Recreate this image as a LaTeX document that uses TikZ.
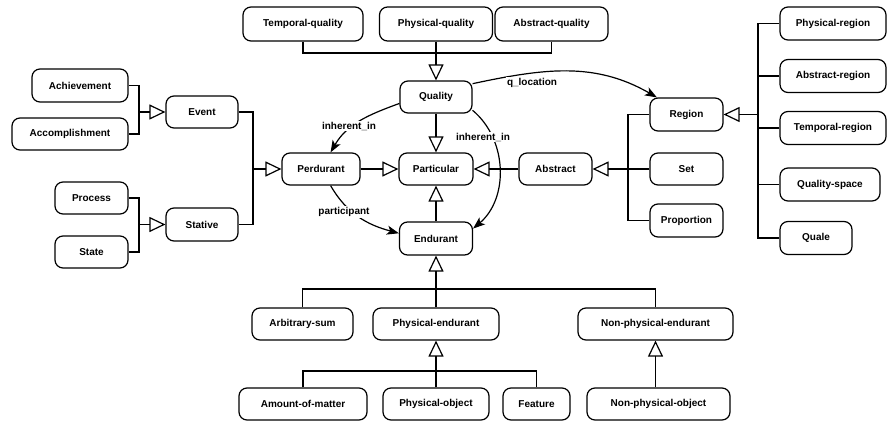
\documentclass[tikz,border=0pt]{standalone}
\usepackage{fontspec}
\setmainfont{Liberation Sans}
\usetikzlibrary{arrows.meta}
\begin{document}
\begin{tikzpicture}[x=1pt,y=1pt,
  cls/.style={draw, line width=1.2pt, rounded corners=8pt, minimum height=32pt, inner xsep=2pt,
    font=\bfseries\fontsize{10}{12}\selectfont},
  conn/.style={line width=1.2pt},
  gen/.style={conn, -{Triangle[open, length=16pt, width=15pt, line width=1.2pt]}},
  assoc/.style={conn, -{Stealth[length=12pt, width=9pt, inset=3pt]}},
  lbl/.style={fill=white, inner sep=1pt, font=\bfseries\fontsize{10}{12}\selectfont}]
\useasboundingbox (0,0) rectangle (888,-425);
% quality level
\node[cls, minimum width=120pt, minimum height=34pt] (tq) at (303,-24) {Temporal-quality};
\node[cls, minimum width=113pt, minimum height=34pt] (pq) at (436,-24) {Physical-quality};
\node[cls, minimum width=113pt, minimum height=34pt] (aq) at (551.5,-24) {Abstract-quality};
\node[cls, minimum width=72pt] (quality) at (436,-97) {Quality};
% perdurant side
\node[cls, minimum width=96pt, minimum height=33pt] (achv) at (80,-85.5) {Achievement};
\node[cls, minimum width=116pt] (acc) at (70,-134) {Accomplishment};
\node[cls, minimum width=72pt] (event) at (202,-112) {Event};
\node[cls, minimum width=73pt] (proc) at (91.5,-198) {Process};
\node[cls, minimum width=73pt] (state) at (91.5,-252) {State};
\node[cls, minimum width=72pt, minimum height=33pt] (stative) at (202,-224.5) {Stative};
\node[cls, minimum width=78pt] (perd) at (321,-169) {Perdurant};
\node[cls, minimum width=74pt] (part) at (436,-169) {Particular};
\node[cls, minimum width=73pt] (abstr) at (555.5,-169) {Abstract};
\node[cls, minimum width=73pt, minimum height=33pt] (endur) at (436,-238.5) {Endurant};
% abstract side
\node[cls, minimum width=73pt, minimum height=33pt] (region) at (686.5,-114.5) {Region};
\node[cls, minimum width=73pt] (set) at (686.5,-169) {Set};
\node[cls, minimum width=73pt, minimum height=33pt] (prop) at (686.5,-220.5) {Proportion};
\node[cls, minimum width=106pt, minimum height=33pt] (physreg) at (833,-23.5) {Physical-region};
\node[cls, minimum width=106pt, minimum height=33pt] (absreg) at (833,-76) {Abstract-region};
\node[cls, minimum width=106pt, minimum height=33pt] (tempreg) at (833,-128) {Temporal-region};
\node[cls, minimum width=100pt, minimum height=33pt] (qspace) at (830,-184.5) {Quality-space};
\node[cls, minimum width=72pt, minimum height=33pt] (quale) at (816,-238) {Quale};
% endurant side
\node[cls, minimum width=101pt] (arb) at (302.5,-324) {Arbitrary-sum};
\node[cls, minimum width=126pt] (physend) at (436,-324) {Physical-endurant};
\node[cls, minimum width=155pt] (nonphysend) at (655.5,-324) {Non-physical-endurant};
\node[cls, minimum width=128pt] (amount) at (303,-404) {Amount-of-matter};
\node[cls, minimum width=106pt] (physobj) at (436,-404) {Physical-object};
\node[cls, minimum width=67pt] (feature) at (536.5,-404) {Feature};
\node[cls, minimum width=143pt] (nonphysobj) at (658.5,-404) {Non-physical-object};
% bus coordinates
\coordinate (qbus) at (436,-53);
\coordinate (evbus) at (139,-112);
\coordinate (stbus) at (139,-224.5);
\coordinate (pbus) at (253,-169);
\coordinate (abus) at (628,-169);
\coordinate (rbus) at (758,-114.5);
\coordinate (ebus) at (436,-289);
\coordinate (pebus) at (436,-371);
% generalisations
\draw[conn] (tq.south) |- (qbus) -| (aq.south);
\draw[gen] (pq.south) -- (quality.north);
\draw[gen] (quality.south) -- (part.north);
\draw[gen] (perd.east) -- (part.west);
\draw[gen] (abstr.west) -- (part.east);
\draw[gen] (endur.north) -- (part.south);
\draw[conn] (achv.east) -| (evbus) |- (acc.east);
\draw[gen] (evbus) -- (event.west);
\draw[conn] (proc.east) -| (stbus) |- (state.east);
\draw[gen] (stbus) -- (stative.west);
\draw[conn] (event.east) -| (pbus) |- (stative.east);
\draw[gen] (pbus) -- (perd.west);
\draw[conn] (region.west) -| (abus) |- (prop.west);
\draw[conn] (set.west) -- (abus);
\draw[gen] (abus) -- (abstr.east);
\draw[conn] (physreg.west) -| (rbus) |- (quale.west);
\draw[conn] (absreg.west) -| (rbus);
\draw[conn] (tempreg.west) -| (rbus);
\draw[conn] (qspace.west) -| (rbus);
\draw[gen] (rbus) -- (region.east);
\draw[conn] (arb.north) |- (ebus) -| (nonphysend.north);
\draw[conn] (physend.north) -- (ebus);
\draw[gen] (ebus) -- (endur.south);
\draw[conn] (amount.north) |- (pebus) -| (feature.north);
\draw[conn] (physobj.north) -- (pebus);
\draw[gen] (pebus) -- (physend.south);
\draw[gen] (nonphysobj.north -| nonphysend.south) -- (nonphysend.south);
% associations
\draw[assoc] (quality.20) to[out=12, in=150] (region.150);
\draw[assoc] (quality.190) to[out=200, in=60] (perd.60);
\draw[assoc] (quality.340) to[out=-40, in=40] (endur.15);
\draw[assoc] (perd.300) to[out=-60, in=165] (endur.172);
% association labels
\node[lbl] (lq) at (532,-83) {q\_location};
\node[lbl] (li1) at (349,-126) {inherent\_in};
\node[lbl] (li2) at (483,-137) {inherent\_in};
\node[lbl] (lp) at (344,-212) {participant};
\end{tikzpicture}
\end{document}
